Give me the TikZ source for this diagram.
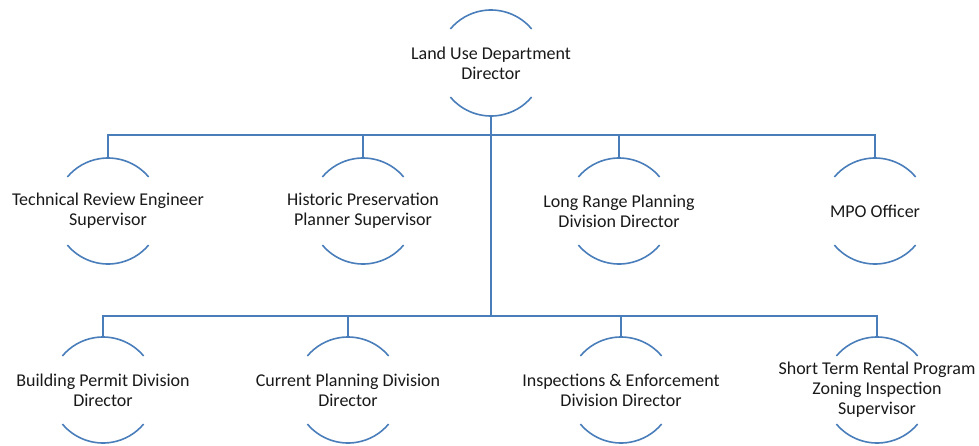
\documentclass[tikz,border=0pt]{standalone}
\usepackage{fontspec}
\setmainfont{Carlito}
\usetikzlibrary{calc}
\definecolor{lineblue}{RGB}{74,126,187}
\tikzset{
  txt/.style={align=center,inner sep=0pt,font=\fontsize{18}{20}\selectfont,text=black!90},
  arcline/.style={draw=lineblue,line width=1.6pt},
  conn/.style={draw=lineblue,line width=1.6pt},
}
\newcommand{\orgnode}[3]{%
  \node[txt] (#1) at #2 {#3};
  \draw[arcline] ($(#1.center)+(40:53pt)$) arc[start angle=40,end angle=140,radius=53pt];
  \draw[arcline] ($(#1.center)+(220:53pt)$) arc[start angle=220,end angle=320,radius=53pt];
  \coordinate (#1-t) at ([yshift=53pt]#1.center);
  \coordinate (#1-b) at ([yshift=-53pt]#1.center);
}
\begin{document}
\begin{tikzpicture}[x=1pt,y=-1pt]
\useasboundingbox (0,0) rectangle (979,445);
\orgnode{root}{(491,63)}{Land Use Department\\Director}
\orgnode{a1}{(108,211)}{Technical Review Engineer\\Supervisor}
\orgnode{a2}{(363,211)}{Historic Preservation\\Planner Supervisor}
\orgnode{a3}{(619,211)}{Long Range Planning\\Division Director}
\orgnode{a4}{(875,211)}{MPO Officer}
\orgnode{b1}{(103,390)}{Building Permit Division\\Director}
\orgnode{b2}{(348,390)}{Current Planning Division\\Director}
\orgnode{b3}{(621,390)}{Inspections \& Enforcement\\Division Director}
\orgnode{b4}{(877,390)}{Short Term Rental Program\\Zoning Inspection\\Supervisor}
\coordinate (bar2) at (491,135);
\coordinate (bar3) at (491,316);
\draw[conn] (root-b) -- (bar3);
\draw[conn] (a1-t) |- (bar2) -| (a4-t);
\draw[conn] (a2-t) -- (a2-t |- bar2);
\draw[conn] (a3-t) -- (a3-t |- bar2);
\draw[conn] (b1-t) |- (bar3) -| (b4-t);
\draw[conn] (b2-t) -- (b2-t |- bar3);
\draw[conn] (b3-t) -- (b3-t |- bar3);
\end{tikzpicture}
\end{document}
